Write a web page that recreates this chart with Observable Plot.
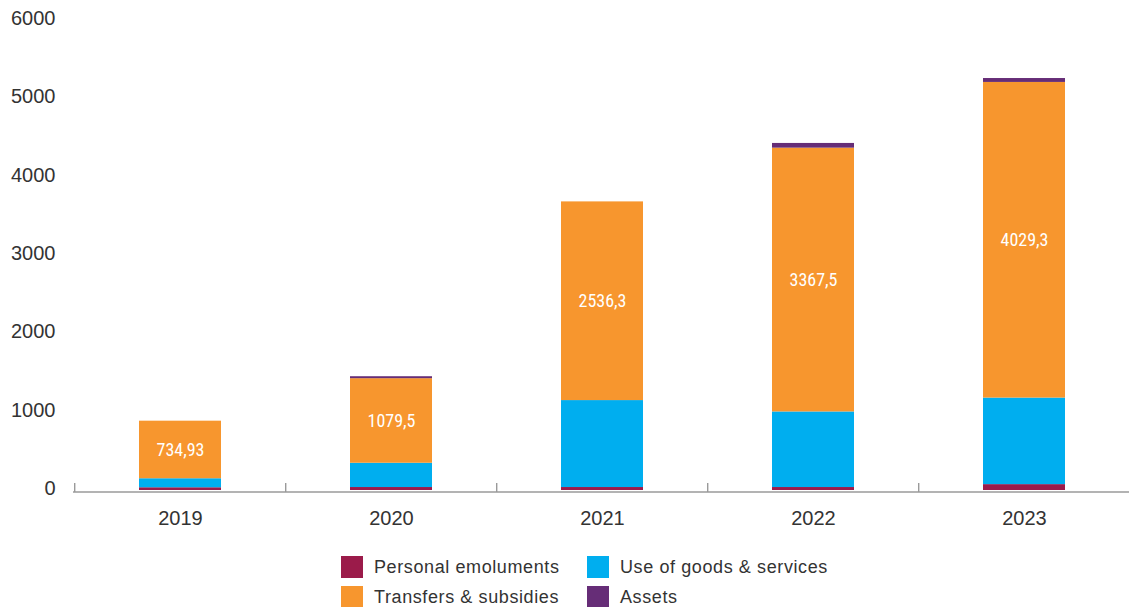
<!DOCTYPE html>
<html>
<head>
<meta charset="utf-8">
<script src="https://cdn.jsdelivr.net/npm/d3@7"></script>
<script src="https://cdn.jsdelivr.net/npm/@observablehq/plot@0.6"></script>
<style>
  html, body { margin: 0; padding: 0; background: #fff; overflow: hidden; }
  #chart svg { display: block; }
  .legend {
    display: grid;
    grid-template-columns: 246px auto;
    row-gap: 8px;
    margin-left: 341px;
    padding-top: 16px;
    font-family: "Liberation Sans", Arial, sans-serif;
    font-size: 18px;
    letter-spacing: 0.6px;
    color: #333;
  }
  .legend .item { display: flex; align-items: center; height: 22px; }
  .legend .sw { width: 22px; height: 22px; margin-right: 11px; flex: none; }
</style>
</head>
<body>
<div id="chart"></div>
<div class="legend" id="legend"></div>
<script>
const years = ["2019", "2020", "2021", "2022", "2023"];
const categories = ["Personal emoluments", "Use of goods & services", "Transfers & subsidies", "Assets"];
const personal = [35, 38, 38, 38, 75];
const goods = [115, 310, 1110, 965, 1105];
const transfers = [734.93, 1079.5, 2536.3, 3367.5, 4029.3];
const assets = [0, 25, 0, 60, 50];
const transferLabels = ["734,93", "1079,5", "2536,3", "3367,5", "4029,3"];
const yTicks = [0, 1000, 2000, 3000, 4000, 5000, 6000];
const colors = ["#9B1B4A", "#00AEEF", "#F7962E", "#662D77"];
const legendOrder = ["Personal emoluments", "Use of goods & services", "Transfers & subsidies", "Assets"];

const series = [personal, goods, transfers, assets];
const data = [];
categories.forEach((c, ci) => {
  years.forEach((y, yi) => data.push({year: y, category: c, value: series[ci][yi]}));
});
const labels = years.map((y, i) => ({
  year: y,
  mid: personal[i] + goods[i] + transfers[i] / 2,
  text: transferLabels[i]
}));

const xRange = [73, 1131];
const halfStep = (xRange[1] - xRange[0]) / years.length / 2;

const chart = Plot.plot({
  width: 1129,
  height: 540,
  marginLeft: 73,
  marginRight: 0,
  marginTop: 20,
  marginBottom: 50,
  style: {fontFamily: "'Liberation Sans', Arial, sans-serif", fontSize: "20px", color: "#333", background: "#fff"},
  x: {domain: years, range: xRange, paddingInner: 0.61, paddingOuter: 0.305, label: null},
  y: {domain: [0, 6000], range: [490, 20], label: null},
  color: {domain: categories, range: colors},
  marks: [
    Plot.barY(data, {x: "year", y: "value", fill: "category", order: categories}),
    Plot.ruleY([0], {stroke: "#9a9a9a", strokeWidth: 1.6, dy: 1.5}),
    Plot.ruleX(years, {x: d => d, dx: -halfStep, stroke: "#9a9a9a", strokeWidth: 1.4, insetTop: 463, insetBottom: -2}),
    Plot.text(labels, {x: "year", y: "mid", text: "text", fill: "white",
      fontSize: 18, fontFamily: "'Liberation Sans Narrow', 'Roboto Condensed', 'DejaVu Sans Condensed', sans-serif"}),
    Plot.axisY({ticks: yTicks, tickSize: 0, tickPadding: 18, tickFormat: "d", fill: "#333", fontSize: 20, dy: -2, label: null}),
    Plot.axisX({tickSize: 0, tickPadding: 20, fill: "#333", fontSize: 20, label: null})
  ]
});
document.getElementById("chart").appendChild(chart);

const legend = document.getElementById("legend");
legendOrder.forEach(c => {
  const item = document.createElement("div");
  item.className = "item";
  const sw = document.createElement("span");
  sw.className = "sw";
  sw.style.background = colors[categories.indexOf(c)];
  const t = document.createElement("span");
  t.textContent = c;
  item.appendChild(sw);
  item.appendChild(t);
  legend.appendChild(item);
});
</script>
</body>
</html>
